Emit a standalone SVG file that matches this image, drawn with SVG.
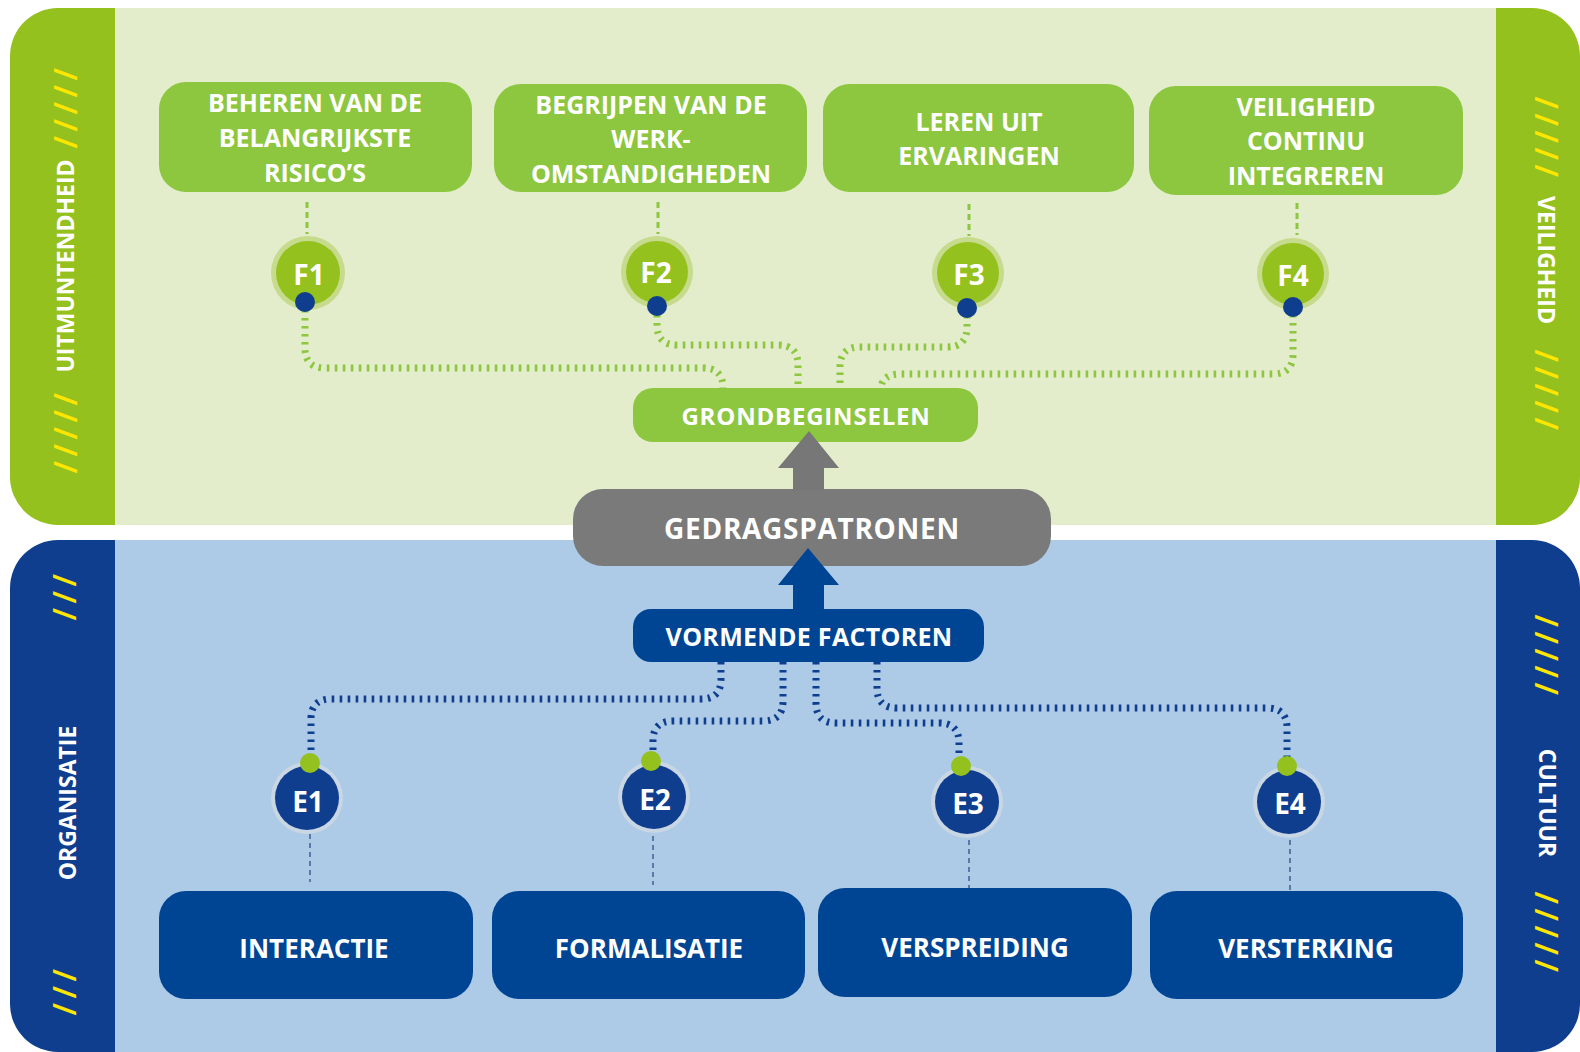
<svg xmlns="http://www.w3.org/2000/svg" width="1580" height="1052" viewBox="0 0 1580 1052">
<style>
  text { font-family: "Open Sans", "Liberation Sans", sans-serif; font-weight: 700; fill: #ffffff; text-anchor: middle; }
  .box-g { fill: #8DC63F; }
  .box-b { fill: #004494; }
  .t-top { font-size: 25px; }
  .t-bot { font-size: 26px; }
  .side { font-size: 23px; }
  .hatch { font-size: 32px; font-weight: 600; fill: #FFE600; letter-spacing: 4.5px; }
  .ring-g { fill: #C6DB8C; }
  .core-g { fill: #95C11F; }
  .ring-b { fill: #C9D7E5; }
  .core-b { fill: #0F3E8F; }
  .dot-b { fill: #0F3E8F; }
  .dot-g { fill: #95C11F; }
  .lbl { font-size: 28px; }
  .dots-g { fill: none; stroke: #8DC63F; stroke-width: 7; stroke-dasharray: 2.6 5.4; }
  .dots-b { fill: none; stroke: #0F3E8F; stroke-width: 7; stroke-dasharray: 2.6 5.4; }
  .dash-g { fill: none; stroke: #8DC63F; stroke-width: 3; stroke-dasharray: 6 4; }
  .dash-b { fill: none; stroke: #5B78A8; stroke-width: 2; stroke-dasharray: 5 4; }
</style>

<rect width="1580" height="1052" fill="#ffffff"/>

<!-- top panel -->
<g id="panel-top">
  <rect x="10" y="8" width="1570" height="517" rx="48" fill="#95C11F"/>
  <rect x="115" y="8" width="1381" height="517" fill="#E3EDCB"/>
  <text class="side" transform="translate(74,266) rotate(-90)">UITMUNTENDHEID</text>
  <text class="hatch" transform="translate(77,106) rotate(-90)">/////</text>
  <text class="hatch" transform="translate(77,431) rotate(-90)">/////</text>
  <text class="side" transform="translate(1538,260) rotate(90)">VEILIGHEID</text>
  <text class="hatch" transform="translate(1535,139) rotate(90)">/////</text>
  <text class="hatch" transform="translate(1535,392) rotate(90)">/////</text>
</g>

<!-- bottom panel -->
<g id="panel-bottom">
  <rect x="10" y="540" width="1570" height="512" rx="48" fill="#0F3E8F"/>
  <rect x="115" y="540" width="1381" height="512" fill="#ADCAE6"/>
  <text class="side" transform="translate(76,803) rotate(-90)">ORGANISATIE</text>
  <text class="hatch" transform="translate(76,595) rotate(-90)">///</text>
  <text class="hatch" transform="translate(76,990) rotate(-90)">///</text>
  <text class="side" transform="translate(1539,803) rotate(90)">CULTUUR</text>
  <text class="hatch" transform="translate(1535,657) rotate(90)">/////</text>
  <text class="hatch" transform="translate(1535,934) rotate(90)">/////</text>
</g>

<!-- connectors -->
<g id="connectors">
  <line class="dash-g" x1="307" y1="202" x2="307" y2="234"/>
  <line class="dash-g" x1="658" y1="202" x2="658" y2="234"/>
  <line class="dash-g" x1="969" y1="204" x2="969" y2="236"/>
  <line class="dash-g" x1="1297" y1="203" x2="1297" y2="235"/>

  <path class="dots-g" d="M305,310 V348 Q305,368 325,368 H703 Q723,368 723,388"/>
  <path class="dots-g" d="M657,315 V325 Q657,345 677,345 H778 Q798,345 798,365 V390"/>
  <path class="dots-g" d="M967,316 V327 Q967,347 947,347 H860 Q840,347 840,367 V390"/>
  <path class="dots-g" d="M1293,315 V354 Q1293,374 1273,374 H900 Q881,374 881,390"/>

  <path class="dots-b" d="M721,662 V679 Q721,699 701,699 H331 Q311,699 311,719 V755"/>
  <path class="dots-b" d="M783,662 V701 Q783,721 763,721 H673 Q653,721 653,741 V753"/>
  <path class="dots-b" d="M816,662 V703 Q816,723 836,723 H939 Q959,723 959,743 V758"/>
  <path class="dots-b" d="M877,662 V688 Q877,708 897,708 H1267 Q1287,708 1287,728 V758"/>

  <line class="dash-b" x1="310" y1="834" x2="310" y2="882"/>
  <line class="dash-b" x1="653" y1="836" x2="653" y2="885"/>
  <line class="dash-b" x1="969" y1="840" x2="969" y2="889"/>
  <line class="dash-b" x1="1290" y1="840" x2="1290" y2="890"/>
</g>

<!-- top boxes -->
<g id="box-beheren">
  <rect class="box-g" x="159" y="82" width="313" height="110" rx="27"/>
  <text class="t-top" x="315" y="112">BEHEREN VAN DE</text>
  <text class="t-top" x="315" y="147">BELANGRIJKSTE</text>
  <text class="t-top" x="315" y="182">RISICO’S</text>
</g>
<g id="box-begrijpen">
  <rect class="box-g" x="494" y="84" width="313" height="108" rx="27"/>
  <text class="t-top" x="651" y="114">BEGRIJPEN VAN DE</text>
  <text class="t-top" x="651" y="148">WERK-</text>
  <text class="t-top" x="651" y="183">OMSTANDIGHEDEN</text>
</g>
<g id="box-leren">
  <rect class="box-g" x="823" y="84" width="311" height="108" rx="27"/>
  <text class="t-top" x="979" y="131">LEREN UIT</text>
  <text class="t-top" x="979" y="165">ERVARINGEN</text>
</g>
<g id="box-veiligheid">
  <rect class="box-g" x="1149" y="86" width="314" height="109" rx="27"/>
  <text class="t-top" x="1306" y="116">VEILIGHEID</text>
  <text class="t-top" x="1306" y="150">CONTINU</text>
  <text class="t-top" x="1306" y="185">INTEGREREN</text>
</g>

<!-- F circles -->
<g id="node-f1">
  <circle class="ring-g" cx="308" cy="273" r="37"/>
  <circle class="core-g" cx="308" cy="273" r="32"/>
  <text class="lbl" x="309" y="285">F1</text>
  <circle class="dot-b" cx="305" cy="302" r="10"/>
</g>
<g id="node-f2">
  <circle class="ring-g" cx="657" cy="272" r="36"/>
  <circle class="core-g" cx="657" cy="272" r="31"/>
  <text class="lbl" x="656" y="283">F2</text>
  <circle class="dot-b" cx="657" cy="306" r="10"/>
</g>
<g id="node-f3">
  <circle class="ring-g" cx="968" cy="273" r="36"/>
  <circle class="core-g" cx="968" cy="273" r="31"/>
  <text class="lbl" x="969" y="285">F3</text>
  <circle class="dot-b" cx="967" cy="308" r="10"/>
</g>
<g id="node-f4">
  <circle class="ring-g" cx="1293" cy="274" r="36"/>
  <circle class="core-g" cx="1293" cy="274" r="31"/>
  <text class="lbl" x="1293" y="286">F4</text>
  <circle class="dot-b" cx="1293" cy="307" r="10"/>
</g>

<!-- centre -->
<g id="node-grondbeginselen">
  <rect class="box-g" x="633" y="388" width="345" height="54" rx="20"/>
  <text x="806" y="425" style="font-size:24px; letter-spacing:0.8px">GRONDBEGINSELEN</text>
</g>
<g id="node-gedragspatronen">
  <rect x="573" y="489" width="478" height="77" rx="30" fill="#7A7A7A"/>
  <text x="812" y="539" style="font-size:28px; letter-spacing:0.7px">GEDRAGSPATRONEN</text>
</g>
<g id="node-vormende">
  <rect class="box-b" x="633" y="609" width="351" height="53" rx="18"/>
  <text x="809" y="646" style="font-size:25px; letter-spacing:0.3px">VORMENDE FACTOREN</text>
</g>

<!-- block arrows between the centre nodes -->
<g id="arrows">
  <polygon fill="#777777" points="809,431 839,468 824,468 824,490 793,490 793,468 778,468"/>
  <polygon fill="#004494" points="808,548 839,585 824,585 824,610 793,610 793,585 778,585"/>
</g>

<!-- E circles -->
<g id="node-e1">
  <circle class="ring-b" cx="307" cy="798" r="36"/>
  <circle class="core-b" cx="307" cy="798" r="32"/>
  <text class="lbl" x="308" y="812">E1</text>
  <circle class="dot-g" cx="310" cy="763" r="10"/>
</g>
<g id="node-e2">
  <circle class="ring-b" cx="654" cy="797" r="36"/>
  <circle class="core-b" cx="654" cy="797" r="32"/>
  <text class="lbl" x="655" y="810">E2</text>
  <circle class="dot-g" cx="651" cy="761" r="10"/>
</g>
<g id="node-e3">
  <circle class="ring-b" cx="967" cy="802" r="36"/>
  <circle class="core-b" cx="967" cy="802" r="32"/>
  <text class="lbl" x="968" y="814">E3</text>
  <circle class="dot-g" cx="961" cy="766" r="10"/>
</g>
<g id="node-e4">
  <circle class="ring-b" cx="1289" cy="802" r="36"/>
  <circle class="core-b" cx="1289" cy="802" r="32"/>
  <text class="lbl" x="1290" y="814">E4</text>
  <circle class="dot-g" cx="1287" cy="766" r="10"/>
</g>

<!-- bottom boxes -->
<g id="box-interactie">
  <rect class="box-b" x="159" y="891" width="314" height="108" rx="27"/>
  <text class="t-bot" x="314" y="958">INTERACTIE</text>
</g>
<g id="box-formalisatie">
  <rect class="box-b" x="492" y="891" width="313" height="108" rx="27"/>
  <text class="t-bot" x="649" y="958">FORMALISATIE</text>
</g>
<g id="box-verspreiding">
  <rect class="box-b" x="818" y="888" width="314" height="109" rx="27"/>
  <text class="t-bot" x="975" y="957">VERSPREIDING</text>
</g>
<g id="box-versterking">
  <rect class="box-b" x="1150" y="891" width="313" height="108" rx="27"/>
  <text class="t-bot" x="1306" y="958">VERSTERKING</text>
</g>
</svg>
